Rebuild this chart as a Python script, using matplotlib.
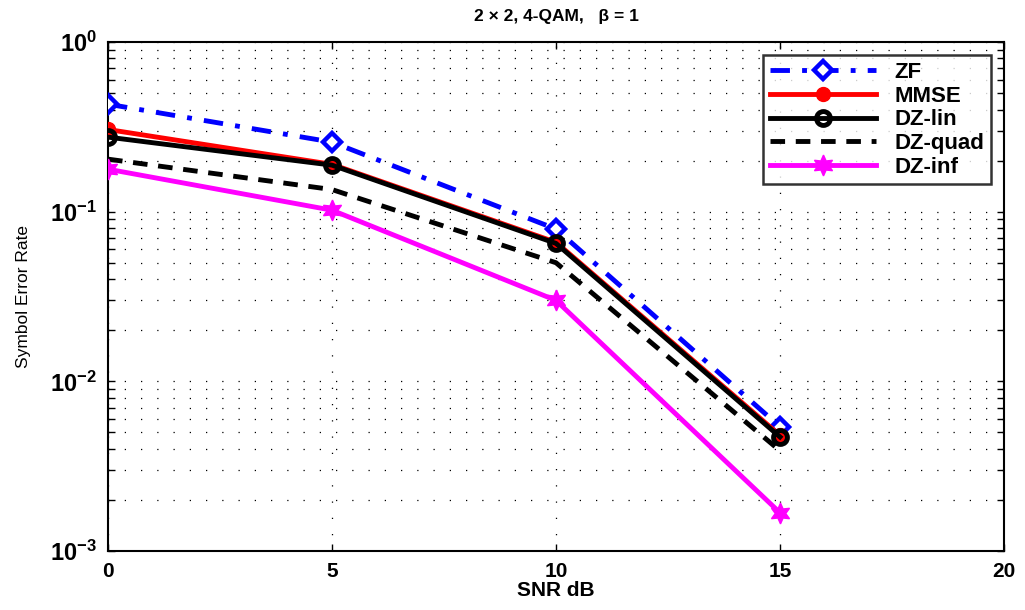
import matplotlib
matplotlib.use("Agg")
import matplotlib.pyplot as plt
from matplotlib.ticker import FixedLocator, LogLocator, NullFormatter

plt.rcParams['font.family'] = ['Liberation Sans', 'DejaVu Sans']
plt.rcParams['mathtext.fontset'] = 'custom'
plt.rcParams['mathtext.rm'] = 'Liberation Sans:bold'
plt.rcParams['mathtext.bf'] = 'Liberation Sans:bold'
plt.rcParams['mathtext.it'] = 'Liberation Sans:bold'

snr = [0, 5, 10, 15]
zf = [0.43, 0.257, 0.079, 0.0054]
mmse = [0.305, 0.19, 0.066, 0.0048]
dz_lin = [0.275, 0.188, 0.065, 0.0047]
dz_quad = [0.204, 0.135, 0.050, 0.0039]
dz_inf = [0.178, 0.102, 0.030, 0.00168]
x_ticks = [0, 5, 10, 15, 20]
y_ticks = [1e-3, 1e-2, 1e-1, 1e0]
y_tick_labels = [r'$\mathbf{10^{-3}}$', r'$\mathbf{10^{-2}}$', r'$\mathbf{10^{-1}}$', r'$\mathbf{10^{0}}$']

fig = plt.figure(figsize=(10.25, 6.1), dpi=100)
ax = fig.add_axes([108/1025, 1-551/610, (1004-108)/1025, (551-42)/610])

lw = 3.5
ax.plot(snr, zf, color='blue', linestyle=(0, (4, 2.5, 1, 2.5)), linewidth=lw, marker='D', markersize=9,
        markerfacecolor='white', markeredgecolor='blue', markeredgewidth=3.2, label='ZF', zorder=3)
ax.plot(snr, mmse, color='red', linestyle='-', linewidth=lw, marker='o', markersize=10,
        markerfacecolor='red', markeredgecolor='red', label='MMSE', zorder=4)
ax.plot(snr, dz_lin, color='black', linestyle='-', linewidth=lw, marker='o', markersize=10,
        markerfacecolor='none', markeredgecolor='black', markeredgewidth=3.5, label='DZ-lin', zorder=5)
ax.plot(snr, dz_quad, color='black', linestyle=(0, (3, 2.2)), linewidth=lw, label='DZ-quad', zorder=3)
ax.plot(snr, dz_inf, color='magenta', linestyle='-', linewidth=lw, marker=(6, 1, 0), markersize=15,
        markerfacecolor='magenta', markeredgecolor='magenta', label='DZ-inf', zorder=3)

ax.set_yscale('log')
ax.set_xlim(0, 20)
ax.set_ylim(1e-3, 1)
ax.xaxis.set_major_locator(FixedLocator(x_ticks))
ax.set_xticklabels([str(t) for t in x_ticks], fontsize=15, fontweight='bold')
ax.yaxis.set_major_locator(FixedLocator(y_ticks))
ax.set_yticklabels(y_tick_labels, fontsize=17)
ax.yaxis.set_minor_locator(LogLocator(base=10, subs=range(2, 10)))
ax.yaxis.set_minor_formatter(NullFormatter())

ax.grid(True, which='major', axis='both', linestyle=(0, (1, 12)), color='black', linewidth=0.9)
ax.grid(True, which='minor', axis='y', linestyle=(0, (1, 12)), color='black', linewidth=0.9)
ax.tick_params(which='both', direction='in', top=True, right=True, length=5, width=1)
ax.tick_params(which='major', pad=8)
for s in ax.spines.values():
    s.set_linewidth(1.5)

ax.set_xlabel('SNR dB', fontsize=15, fontweight='bold', labelpad=0)
ax.set_ylabel('Symbol Error Rate', fontsize=12.5, labelpad=14)
ax.set_title('2 \u00d7 2, 4-QAM,   \u03b2 = 1', fontsize=12.5, fontweight='bold', pad=15)

leg = ax.legend(loc='upper right', prop={'weight': 'bold', 'size': 16},
                frameon=True, fancybox=False, edgecolor='black', handlelength=4.8,
                borderaxespad=0.6, labelspacing=0.12, borderpad=0.3, handletextpad=0.8)
leg.get_frame().set_linewidth(1.8)

fig.savefig('out.png', dpi=100)
